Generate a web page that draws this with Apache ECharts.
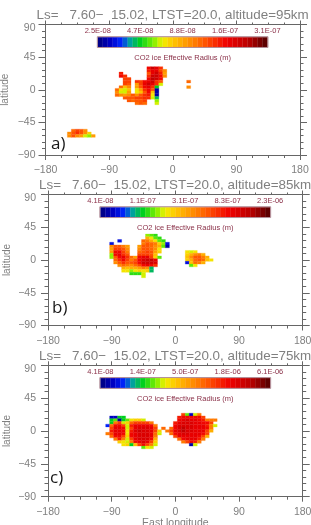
<!DOCTYPE html>
<html>
<head>
<meta charset="utf-8">
<style>html,body{margin:0;padding:0;background:#fff}#chart{width:311px;height:525px}</style>
<script src="https://cdn.jsdelivr.net/npm/echarts@6/dist/echarts.min.js"></script>
</head>
<body>
<div id="chart"></div>
<script>
// CO2 ice effective radius maps at three altitudes (GCM grid cells).
var lonStep = 5.625, latStep = 3.75;

var titles = [
  'Ls=   7.60\u2212  15.02, LTST=20.0, altitude=95km',
  'Ls=   7.60\u2212  15.02, LTST=20.0, altitude=85km',
  'Ls=   7.60\u2212  15.02, LTST=20.0, altitude=75km'
];
var panelTags = ['a)', 'b)', 'c)'];
var barTitle = 'CO2 ice Effective Radius (m)';
var ticks95 = ['2.5E-08', '4.7E-08', '8.8E-08', '1.6E-07', '3.1E-07'];
var ticks85 = ['4.1E-08', '1.1E-07', '3.1E-07', '8.3E-07', '2.3E-06'];
var ticks75 = ['4.1E-08', '1.4E-07', '5.0E-07', '1.8E-06', '6.1E-06'];
var lonTicks = [-180, -90, 0, 90, 180];
var latTicks = [-90, -45, 0, 45, 90];

// Each row: [latitude index, first longitude index, radii in 1E-08 m; 0 = no cloud]
var cloud95 = [
  [8, 26, [16, 20, 18, 14]],
  [7, 26, [15, 18, 18, 13, 10]],
  [6, 19, [15, 0, 0, 0, 0, 0, 0, 12, 18, 20, 15, 9]],
  [5, 19, [16, 14, 0, 0, 0, 0, 0, 14, 21, 20, 16, 10]],
  [4, 19, [0, 13, 13, 0, 0, 0, 0, 16, 22, 20, 16]],
  [3, 20, [13, 13, 0, 14, 13, 16, 18, 20, 14, 12]],
  [3, 36, [11]],
  [2, 20, [13, 12, 0, 9, 13, 18, 20, 18, 14, 6.5]],
  [1, 19, [11, 8, 10, 0, 9, 12, 16, 18, 14, 4.7]],
  [1, 36, [10]],
  [0, 18, [11, 7, 6.5, 8, 0, 7, 9, 14, 16, 12, 2.8]],
  [-1, 18, [10, 6.5, 6.5, 9, 0, 7, 8, 12, 16, 8, 2.7]],
  [-2, 18, [11, 10, 9, 10, 12, 10, 12, 14, 15, 7, 2.8]],
  [-3, 20, [12, 12, 12, 13, 13, 14, 14, 6.5, 4.2]],
  [-4, 21, [12, 11, 12, 12, 13, 0, 0, 6]],
  [-5, 23, [11, 12, 11, 0, 0, 6.5]],
  [-15, 7, [11, 13, 12, 10]],
  [-16, 6, [10, 12, 14, 12, 10, 7.5]],
  [-17, 6, [10, 12, 10, 9, 6.5, 6, 9]]
];
var cloud85 = [
  [9, 25, [16, 14, 13]],
  [8, 25, [28, 20, 14, 12]],
  [7, 18, [6, 0, 0, 0, 0, 0, 45, 40, 30, 20, 14, 12]],
  [6, 16, [6, 0, 0, 0, 0, 0, 0, 0, 40, 50, 45, 40, 22, 16, 6]],
  [5, 16, [36, 55, 50, 40, 34, 0, 0, 34, 50, 55, 45, 35, 30, 14, 5]],
  [4, 16, [34, 60, 60, 50, 38, 0, 0, 35, 55, 55, 45, 35, 20]],
  [3, 16, [34, 85, 85, 60, 40, 0, 0, 45, 55, 60, 50, 32, 22]],
  [3, 35, [20, 18, 20]],
  [2, 16, [16, 85, 100, 70, 50, 0, 0, 60, 60, 60, 50, 25]],
  [2, 35, [22, 30, 35, 40, 28]],
  [1, 16, [16, 50, 85, 100, 70, 45, 34, 85, 100, 90, 60, 22, 14]],
  [1, 35, [25, 35, 50, 55, 40, 28]],
  [0, 17, [45, 70, 85, 60, 40, 55, 85, 110, 120, 120, 100]],
  [0, 35, [22, 30, 45, 50, 45, 25, 20]],
  [-1, 17, [38, 50, 70, 55, 50, 60, 85, 120, 120, 120, 105]],
  [-1, 35, [6, 25, 45, 40, 28]],
  [-2, 18, [35, 45, 40, 35, 45, 60, 85, 100, 80, 70]],
  [-2, 36, [14, 20]],
  [-3, 19, [30, 26, 30, 30, 32, 40, 35, 10]],
  [-4, 19, [20, 20, 16, 20, 22, 20, 24, 10]],
  [-5, 21, [13, 13, 13, 18]],
  [-6, 24, [18]]
];
var cloud75 = [
  [6, 34, [120, 20, 6, 27, 75]],
  [5, 16, [6, 6, 14, 14]],
  [5, 33, [150, 170, 170, 170, 170, 170, 120]],
  [4, 16, [14, 20, 5, 14, 20, 30, 35, 35, 27]],
  [4, 33, [170, 210, 230, 200, 190, 170, 150, 75, 75, 75]],
  [3, 16, [14, 75, 120, 27, 35, 90, 120, 120, 120, 120, 75]],
  [3, 32, [150, 200, 230, 250, 220, 200, 190, 170, 170, 120]],
  [2, 15, [8, 90, 170, 170, 120, 27, 150, 200, 200, 200, 190, 170, 75]],
  [2, 32, [170, 220, 250, 250, 230, 210, 200, 190, 150, 75, 27]],
  [1, 16, [120, 190, 200, 170, 27, 120, 200, 250, 250, 230, 200, 120, 0, 80]],
  [1, 31, [90, 170, 230, 300, 250, 220, 210, 190, 190, 170, 75]],
  [0, 16, [150, 200, 200, 180, 30, 150, 220, 280, 250, 250, 200, 120, 35]],
  [0, 30, [75, 120, 190, 230, 300, 250, 220, 210, 200, 190, 120, 50]],
  [-1, 15, [75, 120, 190, 190, 170, 30, 170, 200, 230, 250, 250, 190, 90, 27]],
  [-1, 31, [90, 170, 210, 230, 230, 210, 200, 190, 170, 120]],
  [-2, 16, [90, 170, 170, 120, 35, 170, 200, 220, 250, 230, 190, 75]],
  [-2, 32, [120, 190, 200, 210, 200, 190, 170, 120, 50]],
  [-3, 17, [75, 150, 75, 27, 120, 190, 220, 250, 220, 170, 50]],
  [-3, 33, [90, 170, 190, 200, 190, 150, 75]],
  [-4, 18, [35, 30, 27, 75, 170, 200, 230, 200, 120, 35]],
  [-4, 34, [75, 120, 170, 150, 75]],
  [-5, 19, [30, 35, 14, 40, 120, 170, 120, 75, 27]],
  [-5, 36, [5, 27]],
  [-6, 24, [20, 30, 27]]
];

var panelCloud = [cloud95, cloud85, cloud75];
var panelTicks = [ticks95, ticks85, ticks75];

// Colour table of the rainbow bar, position 0..1 to colour.
var rampStops = [
  [0.00, '#00007c'], [0.08, '#0000c8'], [0.14, '#0028ff'], [0.19, '#00a0a0'],
  [0.25, '#00d020'], [0.33, '#80f000'], [0.38, '#f0f000'], [0.44, '#ffc800'],
  [0.54, '#ff9000'], [0.64, '#ff5000'], [0.76, '#f00000'], [0.89, '#b80000'],
  [1.00, '#500000']
];
var rampSteps = 34;

function rampColor(f) {
  f = Math.max(0, Math.min(0.9999, f));
  f = (Math.floor(f * rampSteps) + 0.5) / rampSteps;
  for (var i = 1; i < rampStops.length; i++) {
    if (f <= rampStops[i][0]) {
      var a = rampStops[i - 1], b = rampStops[i];
      return echarts.color.lerp((f - a[0]) / (b[0] - a[0]), [a[1], b[1]]);
    }
  }
  return rampStops[rampStops.length - 1][1];
}

var grids = [
  { left: 45.5, top: 24.5, width: 254.5, height: 130.5, outerBoundsMode: 'none' },
  { left: 48, top: 194.5, width: 254.7, height: 131, outerBoundsMode: 'none' },
  { left: 48, top: 365.3, width: 254.7, height: 131.4, outerBoundsMode: 'none' }
];
var tagBoxes = [[51, 136], [52, 300], [50, 470]];
var latLabelMargins = [10, 12, 12];
var latNameGaps = [35, 36, 36];
var axisGray = '#666';
var textGray = '#808080';
var barInk = '#8a3048';
var barLon = [-106, 134], barLat = [72.5, 59], barLabelLat = 81.5, barTitleLat = 44;

function fmtTick(v) { return String(v).replace('-', '\u2212'); }

// The top latitude label sits just below its tick.
function fmtLat(v) { return v === latTicks[4] ? '{low|' + v + '}' : fmtTick(v); }

function cellSeries(p) {
  var ticks = panelTicks[p].map(Number);
  var lo = Math.log(ticks[0]), hi = Math.log(ticks[4]);
  var data = [];
  panelCloud[p].forEach(function (row) {
    row[2].forEach(function (v, n) {
      if (v > 0) data.push([-180 + lonStep * (row[1] + n), latStep * row[0], v * 1e-8]);
    });
  });
  return {
    type: 'custom', xAxisIndex: p * 2, yAxisIndex: p * 2, silent: true, clip: true, data: data,
    renderItem: function (params, api) {
      var lon = api.value(0), lat = api.value(1);
      var c0 = api.coord([lon - lonStep / 2, lat + latStep / 2]);
      var c1 = api.coord([lon + lonStep / 2, lat - latStep / 2]);
      var col = rampColor((Math.log(api.value(2)) - lo) / (hi - lo));
      return {
        type: 'rect',
        shape: { x: c0[0], y: c0[1], width: c1[0] - c0[0], height: c1[1] - c0[1] },
        style: { fill: col, stroke: col, lineWidth: 0.3 }
      };
    }
  };
}

function barSeries(p) {
  var data = [];
  for (var i = 0; i < rampSteps; i++) data.push([i]);
  return {
    type: 'custom', xAxisIndex: p * 2, yAxisIndex: p * 2, silent: true, clip: false, data: data,
    renderItem: function (params, api) {
      var i = api.value(0), span = barLon[1] - barLon[0];
      var c0 = api.coord([barLon[0] + span * i / rampSteps, barLat[0]]);
      var c1 = api.coord([barLon[0] + span * (i + 1) / rampSteps, barLat[1]]);
      var col = rampColor((i + 0.5) / rampSteps);
      return {
        type: 'rect',
        shape: { x: c0[0], y: c0[1], width: c1[0] - c0[0], height: c1[1] - c0[1] },
        style: { fill: col, stroke: col, lineWidth: 0.3 }
      };
    }
  };
}

function barFrameSeries(p) {
  return {
    type: 'custom', xAxisIndex: p * 2, yAxisIndex: p * 2, silent: true, clip: false, data: [[0]],
    renderItem: function (params, api) {
      var c0 = api.coord([barLon[0], barLat[0]]), c1 = api.coord([barLon[1], barLat[1]]);
      return {
        type: 'rect',
        shape: { x: c0[0] - 0.5, y: c0[1] - 0.5, width: c1[0] - c0[0] + 1, height: c1[1] - c0[1] + 1 },
        style: { fill: 'none', stroke: '#b08a94', lineWidth: 1 }
      };
    }
  };
}

function barTextSeries(p) {
  var labels = panelTicks[p];
  var data = labels.map(function (t, i) { return [i]; });
  data.push([labels.length]);
  return {
    type: 'custom', xAxisIndex: p * 2, yAxisIndex: p * 2, silent: true, clip: false, data: data,
    renderItem: function (params, api) {
      var i = api.value(0), isTitle = i === labels.length;
      var span = barLon[1] - barLon[0];
      var c = isTitle
        ? api.coord([(barLon[0] + barLon[1]) / 2, barTitleLat])
        : api.coord([barLon[0] + span * i / (labels.length - 1), barLabelLat]);
      return {
        type: 'text',
        style: {
          x: c[0], y: c[1], text: isTitle ? barTitle : labels[i],
          fill: barInk, fontSize: 7.5, fontFamily: 'Liberation Sans',
          align: 'center', verticalAlign: 'middle'
        }
      };
    }
  };
}

var xAxes = [], yAxes = [], series = [], title = [];
grids.forEach(function (g, p) {
  var lineCommon = { show: true, onZero: false, lineStyle: { color: axisGray, width: 1 } };
  var last = p === 2;
  xAxes.push({
    gridIndex: p, type: 'value', position: 'bottom', min: lonTicks[0], max: lonTicks[4], interval: 90,
    axisLine: lineCommon, splitLine: { show: false },
    axisTick: { show: true, length: 5, lineStyle: { color: axisGray } },
    minorTick: { show: true, splitNumber: 4, length: 3, lineStyle: { color: axisGray } },
    axisLabel: { color: textGray, fontSize: 10.5, fontFamily: 'Liberation Sans', margin: 10, formatter: fmtTick, hideOverlap: false },
    name: last ? 'East longitude' : '', nameLocation: 'middle', nameGap: 21, nameMoveOverlap: false,
    nameTextStyle: { color: textGray, fontSize: 10.5, fontFamily: 'Liberation Sans' }
  });
  xAxes.push({
    gridIndex: p, type: 'value', position: 'top', min: lonTicks[0], max: lonTicks[4], interval: 90,
    axisLine: lineCommon, splitLine: { show: false }, axisLabel: { show: false },
    axisTick: { show: true, length: 4, lineStyle: { color: axisGray } },
    minorTick: { show: true, splitNumber: 4, length: 2, lineStyle: { color: axisGray } }
  });
  yAxes.push({
    gridIndex: p, type: 'value', position: 'left', min: latTicks[0], max: latTicks[4], interval: 45,
    axisLine: lineCommon, splitLine: { show: false },
    axisTick: { show: true, length: 7, lineStyle: { color: axisGray } },
    minorTick: { show: true, splitNumber: 5, length: 3.5, lineStyle: { color: axisGray } },
    axisLabel: {
      color: textGray, fontSize: 10.5, fontFamily: 'Liberation Sans', margin: latLabelMargins[p],
      formatter: fmtLat, showMaxLabel: true, showMinLabel: true,
      rich: { low: { color: textGray, fontSize: 10.5, fontFamily: 'Liberation Sans', padding: [8, 0, 0, 0] } }
    },
    name: 'latitude', nameLocation: 'middle', nameRotate: 90, nameGap: latNameGaps[p], nameMoveOverlap: false,
    nameTextStyle: { color: textGray, fontSize: 10, fontFamily: 'Liberation Sans' }
  });
  yAxes.push({
    gridIndex: p, type: 'value', position: 'right', min: latTicks[0], max: latTicks[4], interval: 45,
    axisLine: lineCommon, splitLine: { show: false }, axisLabel: { show: false },
    axisTick: { show: true, length: 7, lineStyle: { color: axisGray } },
    minorTick: { show: true, splitNumber: 5, length: 3.5, lineStyle: { color: axisGray } }
  });
  series.push(cellSeries(p), barSeries(p), barFrameSeries(p), barTextSeries(p));
  title.push({
    text: titles[p], left: g.left - 9, top: g.top - 15.5, padding: 0,
    textStyle: { color: textGray, fontSize: 13.4, fontWeight: 'normal', fontFamily: 'Liberation Sans' }
  });
  title.push({
    text: panelTags[p], left: tagBoxes[p][0], top: tagBoxes[p][1], padding: 0,
    textStyle: { color: '#181818', fontSize: 17, fontWeight: 'normal', fontFamily: 'Open Sans' }
  });
});

var chart = echarts.init(document.getElementById('chart'), null, { renderer: 'canvas' });
chart.setOption({
  animation: false, backgroundColor: '#fff',
  title: title, grid: grids, xAxis: xAxes, yAxis: yAxes, series: series
});
</script>
</body>
</html>
